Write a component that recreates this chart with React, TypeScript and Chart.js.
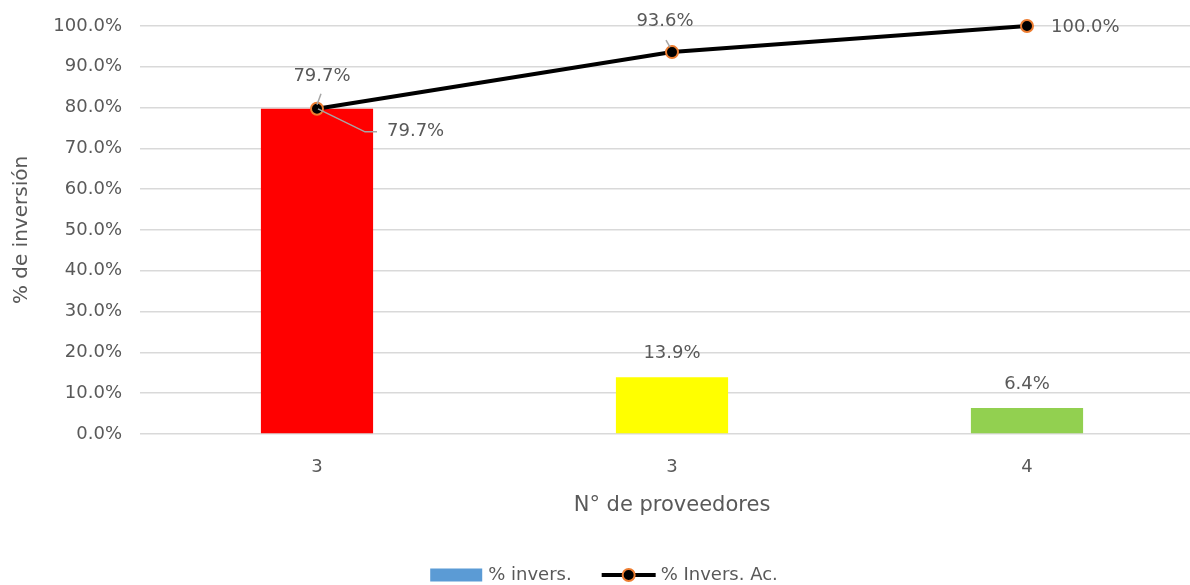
import React, { useEffect, useRef } from "react";
import { Chart, registerables } from "chart.js";

Chart.register(...registerables);

const categories = ["3", "3", "4"];
const pctInvers = [79.7, 13.9, 6.4];
const pctAcum = [79.7, 93.6, 100.0];
const barColors = ["#FF0000", "#FFFF00", "#92D050"];
const yTicks = [0, 10, 20, 30, 40, 50, 60, 70, 80, 90, 100];

const FONT = "'DejaVu Sans', sans-serif";
const TXT = "#595959";

const labelsPlugin = {
  id: "customLabels",
  afterDatasetsDraw(chart: any) {
    const ctx = chart.ctx;
    ctx.save();
    ctx.font = `18px ${FONT}`;
    ctx.fillStyle = TXT;
    ctx.textBaseline = "middle";
    ctx.strokeStyle = "#A6A6A6";
    ctx.lineWidth = 1.5;
    const barMeta = chart.getDatasetMeta(0);
    const lineMeta = chart.getDatasetMeta(1);
    barMeta.data.forEach((bar: any, i: number) => {
      const txt = pctInvers[i].toFixed(1) + "%";
      if (i === 0) {
        ctx.beginPath();
        ctx.moveTo(bar.x + 1, bar.y);
        ctx.lineTo(bar.x + 48, bar.y + 23);
        ctx.lineTo(bar.x + 60, bar.y + 23);
        ctx.stroke();
        ctx.textAlign = "left";
        ctx.fillText(txt, bar.x + 70, bar.y + 23);
      } else {
        ctx.textAlign = "center";
        ctx.fillText(txt, bar.x, bar.y - 24);
      }
    });
    lineMeta.data.forEach((pt: any, i: number) => {
      const txt = pctAcum[i].toFixed(1) + "%";
      if (i === 0) {
        ctx.beginPath();
        ctx.moveTo(pt.x + 4, pt.y - 15);
        ctx.lineTo(pt.x, pt.y - 4);
        ctx.stroke();
        ctx.textAlign = "center";
        ctx.fillText(txt, pt.x + 5, pt.y - 32);
      } else if (i === 1) {
        ctx.beginPath();
        ctx.moveTo(pt.x - 6, pt.y - 12);
        ctx.lineTo(pt.x - 2, pt.y - 5);
        ctx.stroke();
        ctx.textAlign = "center";
        ctx.fillText(txt, pt.x - 7, pt.y - 31);
      } else {
        ctx.textAlign = "left";
        ctx.fillText(txt, pt.x + 24, pt.y + 1);
      }
    });
    ctx.restore();
  },
  afterDraw(chart: any) {
    const ctx = chart.ctx;
    ctx.save();
    ctx.font = `18px ${FONT}`;
    ctx.textBaseline = "middle";
    ctx.textAlign = "left";
    const t1 = "% invers.";
    const t2 = "% Invers. Ac.";
    const w1 = ctx.measureText(t1).width;
    const w2 = ctx.measureText(t2).width;
    const total = 52 + 6 + w1 + 30 + 54 + 5 + w2;
    let x = 604 - total / 2;
    const y = 575;
    ctx.fillStyle = "#5B9BD5";
    ctx.fillRect(x, y - 6.5, 52, 13);
    x += 58;
    ctx.fillStyle = TXT;
    ctx.fillText(t1, x, y);
    x += w1 + 30;
    ctx.strokeStyle = "#000000";
    ctx.lineWidth = 4;
    ctx.beginPath();
    ctx.moveTo(x, y);
    ctx.lineTo(x + 54, y);
    ctx.stroke();
    ctx.beginPath();
    ctx.arc(x + 27, y, 6, 0, Math.PI * 2);
    ctx.fillStyle = "#000000";
    ctx.fill();
    ctx.strokeStyle = "#ED7D31";
    ctx.lineWidth = 2;
    ctx.stroke();
    x += 59;
    ctx.fillStyle = TXT;
    ctx.fillText(t2, x, y);
    ctx.restore();
  },
};

export default function App() {
  const ref = useRef<HTMLCanvasElement>(null);
  useEffect(() => {
    if (!ref.current) return;
    const chart = new Chart(ref.current, {
      type: "bar",
      data: {
        labels: categories,
        datasets: [
          {
            type: "bar",
            label: "% invers.",
            data: pctInvers,
            backgroundColor: barColors,
            borderWidth: 0,
            categoryPercentage: 1,
            barPercentage: 0.316,
            order: 2,
          },
          {
            type: "line",
            label: "% Invers. Ac.",
            data: pctAcum,
            borderColor: "#000000",
            borderWidth: 4,
            pointRadius: 6,
            pointBackgroundColor: "#000000",
            pointBorderColor: "#ED7D31",
            pointBorderWidth: 2,
            tension: 0,
            clip: false,
            order: 1,
          } as any,
        ],
      },
      options: {
        responsive: false,
        animation: false,
        layout: { padding: { left: 0, top: 26, right: 10.5, bottom: 66 } },
        plugins: {
          legend: { display: false },
          tooltip: { enabled: false },
        },
        scales: {
          x: {
            offset: true,
            grid: { display: false, drawTicks: false },
            border: { display: false },
            ticks: { color: TXT, font: { family: FONT, size: 18 }, padding: 23 },
            title: {
              display: true,
              text: "N° de proveedores",
              color: TXT,
              font: { family: FONT, size: 21 },
              padding: { top: 0, bottom: 1 },
            },
            afterFit: (s: any) => {
              s.height = 85;
            },
          },
          y: {
            min: 0,
            max: 100,
            afterBuildTicks: (s: any) => {
              s.ticks = yTicks.map((v) => ({ value: v }));
            },
            grid: { color: "#D9D9D9", lineWidth: 1.5, drawTicks: false },
            border: { display: false },
            ticks: {
              color: TXT,
              font: { family: FONT, size: 18 },
              padding: 17.5,
              callback: (v: any) => Number(v).toFixed(1) + "%",
            },
            title: {
              display: true,
              text: "% de inversión",
              color: TXT,
              font: { family: FONT, size: 20 },
              padding: { top: 10, bottom: 0 },
            },
            afterFit: (s: any) => {
              s.width = 139.5;
              s.paddingTop = 0;
              s.paddingBottom = 0;
            },
          },
        },
      },
      plugins: [labelsPlugin],
    });
    return () => chart.destroy();
  }, []);
  return (
    <div
      style={{
        position: "fixed",
        left: 0,
        top: 0,
        width: 1190,
        height: 585,
        overflow: "hidden",
        background: "#fff",
      }}
    >
      <canvas ref={ref} width={1215} height={585} style={{ display: "block" }} />
    </div>
  );
}
